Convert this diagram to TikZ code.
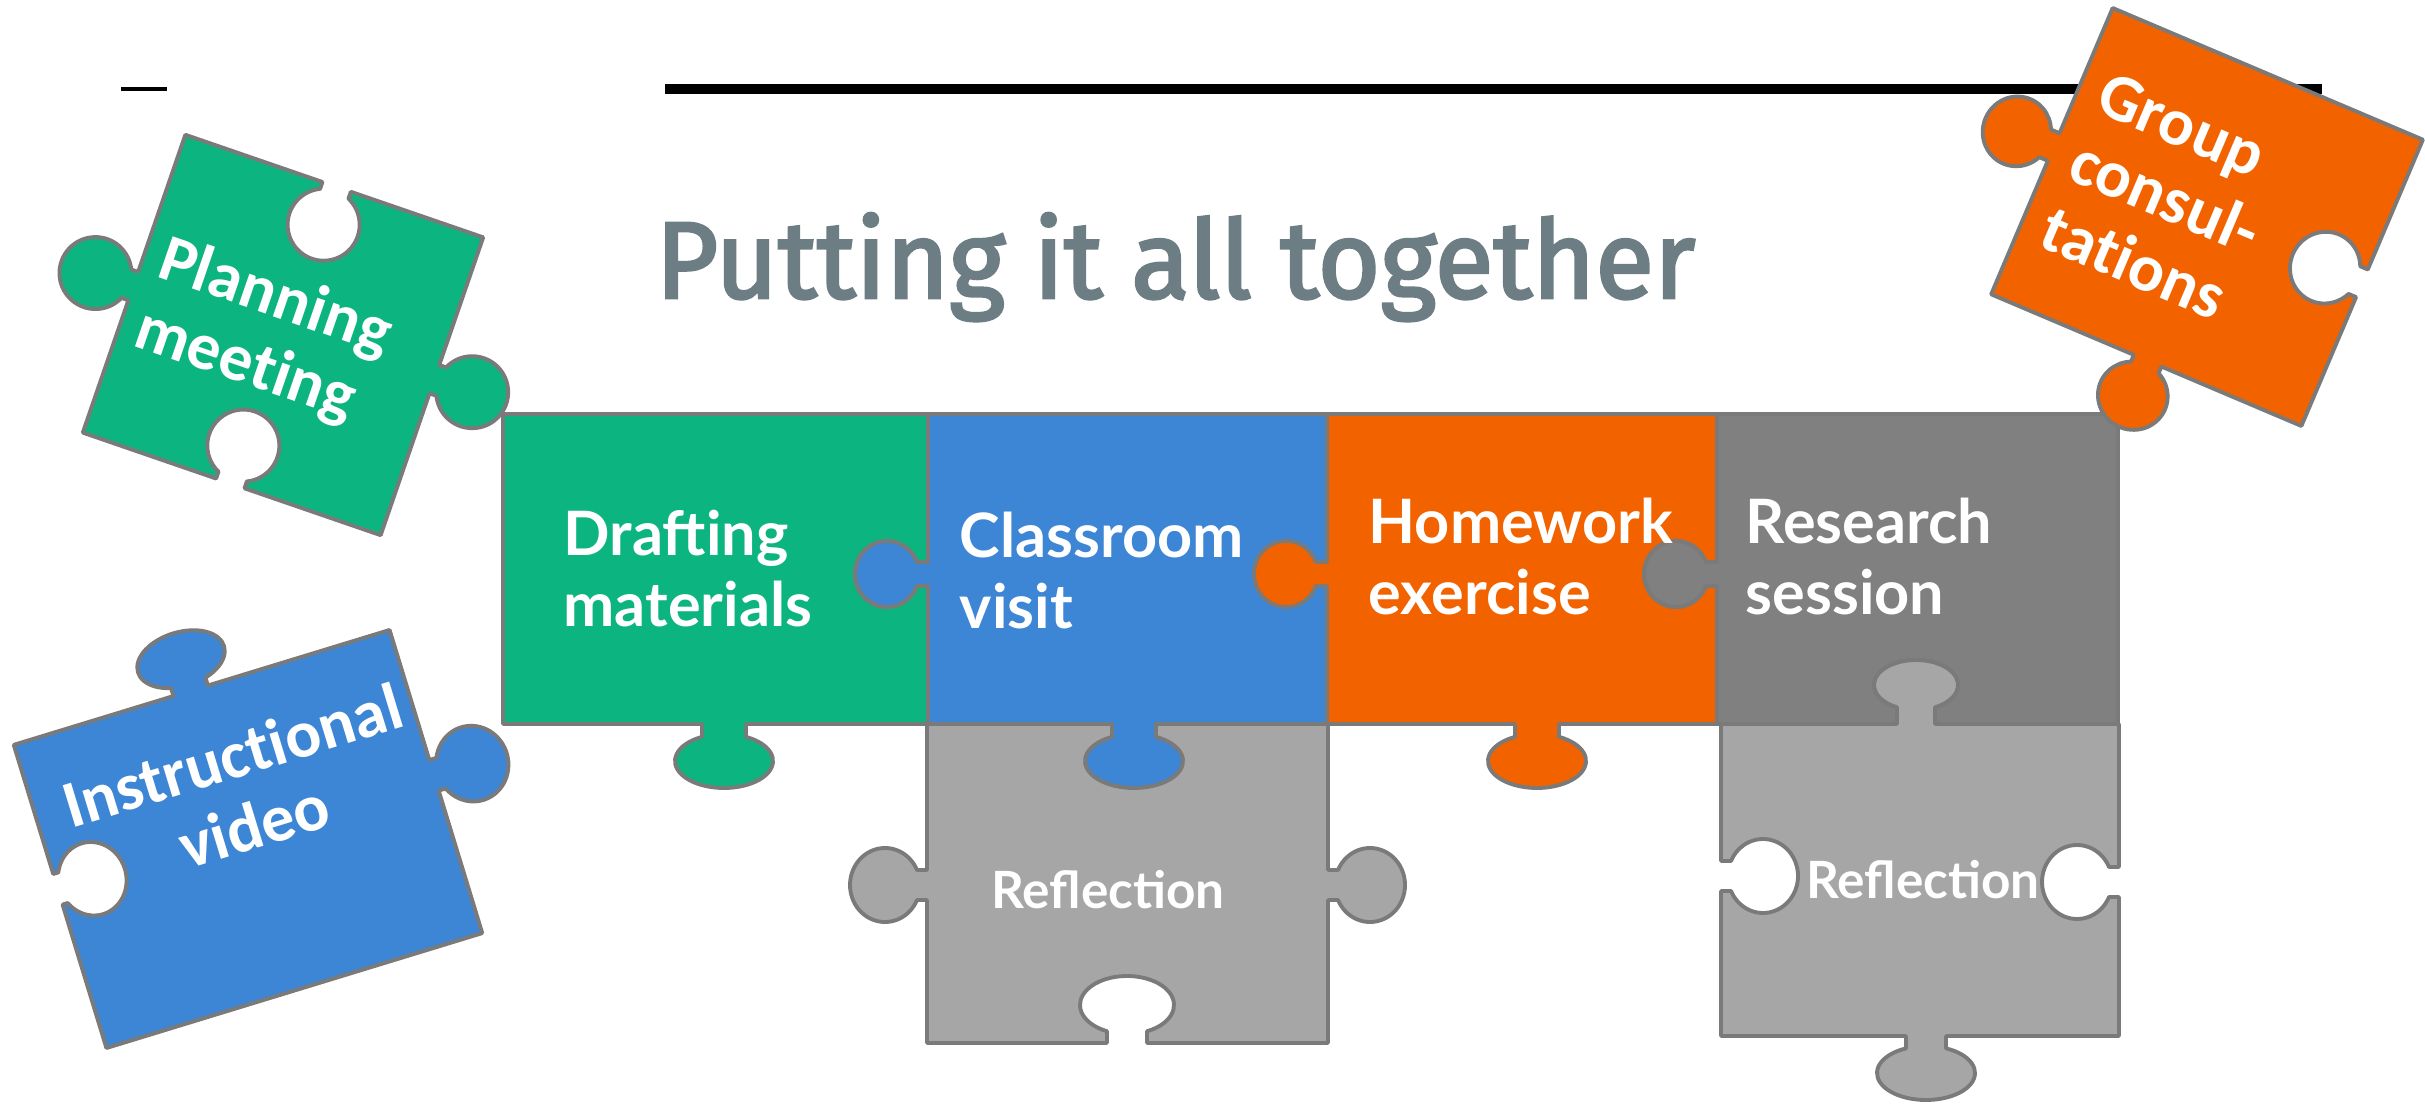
\documentclass[tikz,border=0pt]{standalone}
\usepackage{fontspec}
\usepackage{graphicx}
\setmainfont{Lato}
\newfontfamily\rowfont{Lato}
\newfontfamily\tiltfont{Carlito}[Ligatures=NoCommon]
\newfontfamily\headfont{Fira Sans}

\definecolor{pzgreen}{RGB}{12,180,128}
\definecolor{pzblue}{RGB}{61,133,213}
\definecolor{pzorange}{RGB}{242,99,0}
\definecolor{pzdark}{RGB}{128,128,128}
\definecolor{pzlight}{RGB}{166,166,166}
\definecolor{pzedge}{RGB}{122,122,122}
\definecolor{headgray}{RGB}{108,126,131}

% Puzzle edges in a piece's own frame: origin top-left, x right, y down.
% Arguments: {position}{+1 knob / -1 hole}{neck half-width}{head distance}{x radius}{y radius}
\tikzset{
  piece/.style={draw=pzedge, line width=1.1pt, line join=round},
  tabT/.style n args={6}{insert path={
    -- ({#1-#3},0) -- ({#1-#3},{-(#2)*(#4-(#6)*sin(acos((#3)/(#5))))})
    arc[start angle={180-(#2)*acos((#3)/(#5))}, end angle={180+(#2)*(180+acos((#3)/(#5)))}, x radius=#5, y radius=#6]
    -- ({#1+#3},0)}},
  tabR/.style n args={6}{insert path={
    -- (\pw,{#1-#3}) -- ({\pw+(#2)*(#4-(#5)*sin(acos((#3)/(#6))))},{#1-#3})
    arc[start angle={270-(#2)*acos((#3)/(#6))}, end angle={270+(#2)*(180+acos((#3)/(#6)))}, x radius=#5, y radius=#6]
    -- (\pw,{#1+#3})}},
  tabB/.style n args={6}{insert path={
    -- ({#1+#3},\ph) -- ({#1+#3},{\ph+(#2)*(#4-(#6)*sin(acos((#3)/(#5))))})
    arc[start angle={360-(#2)*acos((#3)/(#5))}, end angle={360+(#2)*(180+acos((#3)/(#5)))}, x radius=#5, y radius=#6]
    -- ({#1-#3},\ph)}},
  tabL/.style n args={6}{insert path={
    -- (0,{#1+#3}) -- ({-(#2)*(#4-(#5)*sin(acos((#3)/(#6))))},{#1+#3})
    arc[start angle={450-(#2)*acos((#3)/(#6))}, end angle={450+(#2)*(180+acos((#3)/(#6)))}, x radius=#5, y radius=#6]
    -- (0,{#1-#3})}},
  rowlab/.style={text=white, inner sep=0pt, align=left,
    font=\rowfont\bfseries\fontsize{17.4}{20.2}\selectfont},
  reflab/.style={text=white, inner sep=0pt,
    font=\rowfont\bfseries\fontsize{14.6}{17}\selectfont},
  tiltlab/.style={text=white, inner sep=0pt,
    font=\tiltfont\bfseries\fontsize{19}{20.8}\selectfont},
}

\begin{document}
\begin{tikzpicture}[x=0.01cm,y=-0.01cm]
\useasboundingbox (0,0) rectangle (2425,1104);
\fill[white] (0,0) rectangle (2425,1104);

% header rules
\draw[line width=1.4pt] (121,89) -- (167,89);
\draw[line width=2.6pt] (665,89) -- (2322,89);

% title
\node[anchor=base west, inner sep=0pt, text=headgray] (title) at (655,298)
  {\resizebox{10.39cm}{\height}{\headfont\addfontfeature{FakeBold=2.5}\fontsize{31}{36}\selectfont Putting it all together}};

% main row of pieces
\begin{scope}[shift={(503,414)}]
  \def\pw{425}\def\ph{310}
  \filldraw[piece, fill=pzgreen] (0,0) -- (\pw,0)
    [tabR={160}{-1}{12}{41}{32}{33}] -- (\pw,\ph)
    [tabB={221}{1}{22}{37}{49}{27}] -- (0,\ph) -- cycle;
\end{scope}
\begin{scope}[shift={(928,414)}]
  \def\pw{399}\def\ph{310}
  \filldraw[piece, fill=pzblue] (0,0) -- (\pw,0)
    [tabR={160}{-1}{12}{41}{32}{33}] -- (\pw,\ph)
    [tabB={206}{1}{22}{37}{49}{27}] -- (0,\ph)
    [tabL={160}{1}{12}{41}{32}{33}] -- cycle;
\end{scope}
\begin{scope}[shift={(1327,414)}]
  \def\pw{390}\def\ph{310}
  \filldraw[piece, fill=pzorange] (0,0) -- (\pw,0)
    [tabR={160}{-1}{12}{41}{32}{33}] -- (\pw,\ph)
    [tabB={210}{1}{22}{37}{49}{27}] -- (0,\ph)
    [tabL={160}{1}{12}{41}{32}{33}] -- cycle;
\end{scope}
\begin{scope}[shift={(1717,414)}]
  \def\pw{401}\def\ph{310}
  \filldraw[piece, fill=pzdark] (0,0) -- (\pw,0) -- (\pw,\ph)
    [tabB={199}{-1}{19}{39}{42}{25}] -- (0,\ph)
    [tabL={160}{1}{12}{41}{32}{33}] -- cycle;
\end{scope}

% reflection pieces
\begin{scope}[shift={(927,724)}]
  \def\pw{401}\def\ph{319}
  \filldraw[piece, fill=pzlight] (0,0)
    [tabT={207}{-1}{22}{37}{49}{27}] -- (\pw,0)
    [tabR={161}{1}{15}{42}{35}{37}] -- (\pw,\ph)
    [tabB={200}{-1}{20}{38}{47}{29}] -- (0,\ph)
    [tabL={161}{1}{15}{42}{35}{37}] -- cycle;
\end{scope}
\begin{scope}[shift={(1721,724)}]
  \def\pw{398}\def\ph{312}
  \filldraw[piece, fill=pzlight] (0,0)
    [tabT={195}{1}{19}{39}{42}{25}] -- (\pw,0)
    [tabR={158}{-1}{15}{42}{35}{37}] -- (\pw,\ph)
    [tabB={205}{1}{20}{37}{49}{27}] -- (0,\ph)
    [tabL={152}{-1}{15}{42}{35}{37}] -- cycle;
\end{scope}

% loose pieces
\begin{scope}[shift={(283,335)}, rotate=-19, shift={(-157.5,-157.5)}]
  \def\pw{315}\def\ph{315}
  \filldraw[piece, fill=pzgreen] (0,0)
    [tabT={160}{-1}{15}{40}{36}{36}] -- (\pw,0)
    [tabR={150}{1}{15}{40}{36}{36}] -- (\pw,\ph)
    [tabB={156}{-1}{15}{40}{36}{36}] -- (0,\ph)
    [tabL={160}{1}{15}{40}{36}{36}] -- cycle;
\end{scope}
\begin{scope}[shift={(248,839)}, rotate=17, shift={(-196.5,-158.5)}]
  \def\pw{393}\def\ph{317}
  \filldraw[piece, fill=pzblue] (0,0)
    [tabT={185}{1}{18}{33}{45}{27}] -- (\pw,0)
    [tabR={152}{1}{16}{40}{36}{38}] -- (\pw,\ph) -- (0,\ph)
    [tabL={151}{-1}{16}{36}{34}{37}] -- cycle;
\end{scope}
\begin{scope}[shift={(2207,217)}, rotate=-23, shift={(-168.5,-155.5)}]
  \def\pw{337}\def\ph{311}
  \filldraw[piece, fill=pzorange] (0,0) -- (\pw,0)
    [tabR={156}{-1}{15}{40}{35}{36}] -- (\pw,\ph)
    [tabB={170}{1}{15}{38}{35}{34}] -- (0,\ph)
    [tabL={151}{1}{15}{40}{34}{35}] -- cycle;
\end{scope}

% labels
\node[rowlab, anchor=north west] (draft) at (563,509) {Drafting\\materials};
\node[rowlab, anchor=north west] (visit) at (959,511) {Classroom\\visit};
\node[rowlab, anchor=north west] (homework) at (1368,497) {Homework\\exercise};
\node[rowlab, anchor=north west] (research) at (1745,497) {Research\\session};
\node[reflab] (refl1) at (1108,890) {Reflection};
\node[reflab] (refl2) at (1923,880) {Reflection};
\node[tiltlab, rotate=-19, align=left] (plan) at (263,333) {Planning\\meeting};
\node[tiltlab, rotate=17, align=center] (video) at (243,790) {Instructional\\video};
\node[tiltlab, rotate=-23, align=left] (group) at (2165,197) {Group\\consul-\\tations};
\end{tikzpicture}
\end{document}
